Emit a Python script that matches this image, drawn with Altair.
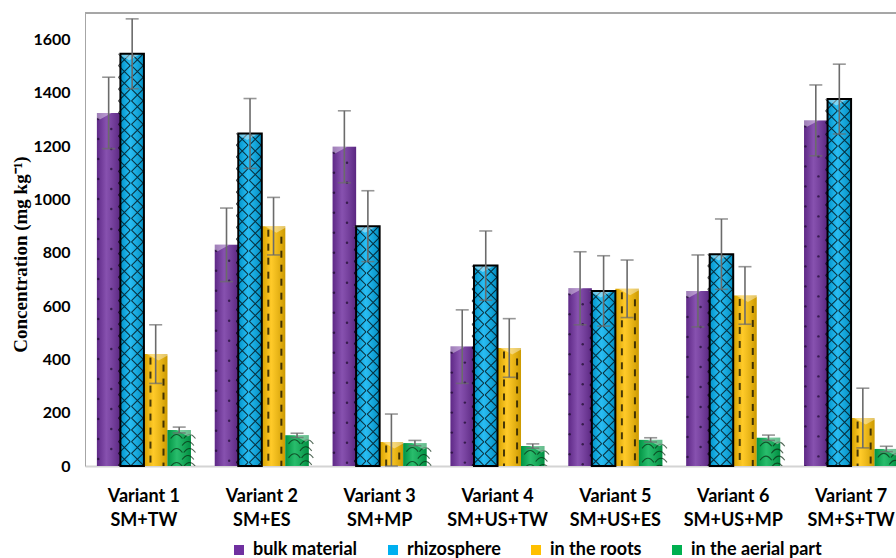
import altair as alt
import pandas as pd

# Categories
variants = ["Variant 1", "Variant 2", "Variant 3", "Variant 4", "Variant 5", "Variant 6", "Variant 7"]
treatments = ["SM+TW", "SM+ES", "SM+MP", "SM+US+TW", "SM+US+ES", "SM+US+MP", "SM+S+TW"]
series = ["bulk material", "rhizosphere", "in the roots", "in the aerial part"]
colors = ["#7030A0", "#00B0F0", "#FFC000", "#00B050"]

# Concentrations (mg/kg) and standard deviations per variant
bulk = [1325, 830, 1198, 448, 667, 657, 1297]
bulk_sd = [134, 138, 135, 138, 137, 135, 133]
rhizo = [1547, 1248, 900, 752, 657, 795, 1377]
rhizo_sd = [131, 131, 133, 130, 132, 132, 131]
roots = [420, 900, 90, 443, 665, 640, 180]
roots_sd = [110, 108, 105, 110, 108, 108, 112]
aerial = [135, 115, 86, 75, 98, 106, 64]
aerial_sd = [11, 8, 10, 8, 8, 10, 10]

y_ticks = [0, 200, 400, 600, 800, 1000, 1200, 1400, 1600]

Y_MAX = 1700
PLOT_W, PLOT_H = 811, 453
PX = Y_MAX / PLOT_H  # data units per screen pixel (used for texture spacing)

labels = [f"{v}|{t}" for v, t in zip(variants, treatments)]
values = dict(zip(series, [bulk, rhizo, roots, aerial]))
sds = dict(zip(series, [bulk_sd, rhizo_sd, roots_sd, aerial_sd]))
# each bar is split into a left and a right half for its texture;
# one empty slot on each side keeps the gap between groups
slots = ["gap|a"] + [f"{s}|{side}" for s in series for side in ("L", "R")] + ["gap|b"]

rows = []
for i, lab in enumerate(labels):
    for s in series:
        v, e = values[s][i], sds[s][i]
        rows.append({"group": lab, "series": s, "value": v, "lo": max(v - e, 0), "hi": v + e})
bars = pd.DataFrame(rows)


def texture(name, side, first_px, pitch_px):
    """Rows of texture glyphs filling one half of each bar of a series, from its top downward."""
    out = []
    for i, lab in enumerate(labels):
        v = values[name][i]
        k = 0
        while True:
            y = v - (first_px + k * pitch_px) * PX
            if y < -pitch_px * PX:
                break
            out.append({"group": lab, "series": name, "slot": f"{name}|{side}", "y": y})
            k += 1
    return pd.DataFrame(out)


x_enc = alt.X(
    "group:N",
    scale=alt.Scale(domain=labels, range=[0, 825], paddingInner=0, paddingOuter=0),
    axis=alt.Axis(
        title=None, labelExpr="split(datum.value, '|')", labelAngle=0,
        labelFont="Lato", labelFontWeight="bold", labelFontSize=18, labelColor="black",
        labelLineHeight=24, labelPadding=21, ticks=False,
        domain=True, domainColor="#d4d4d4", domainWidth=2,
    ),
)
off_enc = alt.XOffset("series:N", scale=alt.Scale(domain=series, paddingInner=0, paddingOuter=0.506))
slot_enc = alt.XOffset("slot:N", scale=alt.Scale(domain=slots, paddingInner=0, paddingOuter=0.015))
y_scale = alt.Scale(domain=[0, Y_MAX], nice=False, zero=True)
y_axis = alt.Axis(
    title="Concentration (mg kg⁻¹)", values=y_ticks, format="d", grid=False, ticks=False,
    domain=True, domainColor="#a6a6a6", domainWidth=1,
    labelFont="Lato", labelFontWeight="bold", labelFontSize=16, labelColor="black", labelPadding=15,
    titleFont="Liberation Serif", titleFontWeight="bold", titleFontSize=19, titleColor="black",
    titleX=-65, titleY=241, titleBaseline="middle", titleAlign="center", titleAngle=270,
)


def y_enc(field):
    return alt.Y(f"{field}:Q", scale=y_scale, axis=y_axis)


base = alt.Chart(bars).mark_bar().encode(
    x=x_enc, xOffset=off_enc, y=y_enc("value"),
    color=alt.Color(
        "series:N", scale=alt.Scale(domain=series, range=colors),
        legend=alt.Legend(
            title=None, orient="none", direction="horizontal", legendX=145, legendY=528,
            symbolType="square", symbolSize=100, symbolStrokeWidth=0, labelOffset=5,
            labelFont="Lato", labelFontWeight="bold", labelFontSize=18, labelColor="black",
            columnPadding=26, padding=0,
        ),
    ),
)

shade = alt.Gradient(
    gradient="linear", x1=0, x2=1, y1=0, y2=0,
    stops=[
        alt.GradientStop(offset=0, color="rgba(0,0,0,0.16)"),
        alt.GradientStop(offset=0.4, color="rgba(255,255,255,0.16)"),
        alt.GradientStop(offset=1, color="rgba(0,0,0,0.20)"),
    ],
)
gloss = alt.Chart(bars).mark_bar(fill=shade).encode(x=x_enc, xOffset=off_enc, y=y_enc("value"))


def half_layer(df, mark):
    return alt.Chart(df).mark_point(clip=True, **mark).encode(x=x_enc, xOffset=slot_enc, y=y_enc("y"))


dot_style = dict(shape="circle", size=6, filled=True, color="#1b0b2b", strokeWidth=0)
x_style = dict(shape="M-1,-1L1,1M1,-1L-1,1", size=138, color="black", strokeWidth=1.1)
dash_style = dict(shape="M0,-1L0,1", size=49, color="black", strokeWidth=2)
arc_style = dict(shape="M-1,0.6Q0,-0.8 1,0.6", size=138, color="#0a2a12", strokeWidth=1.1)

texture_layers = [
    half_layer(texture("bulk material", "L", 6, 20), dot_style),
    half_layer(texture("bulk material", "R", 16, 20), dot_style),
    half_layer(texture("rhizosphere", "L", 5.875, 11.75), x_style),
    half_layer(texture("rhizosphere", "R", 5.875, 11.75), x_style),
    half_layer(texture("in the roots", "L", 7, 14), dash_style),
    half_layer(texture("in the roots", "R", 14, 14), dash_style),
    half_layer(texture("in the aerial part", "L", 5, 14), arc_style),
    half_layer(texture("in the aerial part", "R", 5, 14), arc_style),
    alt.Chart(texture("in the aerial part", "L", 12, 14)).mark_point(clip=True, **arc_style).encode(
        x=x_enc, xOffset=off_enc, y=y_enc("y")),
]

# light bevel at the top of each bar
bevel = alt.Chart(bars).mark_point(
    shape="M-1,0L1,0L0,0.55Z", size=552, filled=True, fill="white", opacity=0.4, strokeWidth=0
).encode(x=x_enc, xOffset=off_enc, y=y_enc("value"))

outline = alt.Chart(bars).transform_filter(alt.datum.series == "rhizosphere").mark_bar(
    fillOpacity=0, stroke="black", strokeWidth=2
).encode(x=x_enc, xOffset=off_enc, y=y_enc("value"))

err_color = "#6b6b6b"
err_rule = alt.Chart(bars).mark_rule(color=err_color, strokeWidth=1.6).encode(
    x=x_enc, xOffset=off_enc, y=y_enc("lo"), y2="hi:Q")
err_top = alt.Chart(bars).mark_tick(color=err_color, size=13, thickness=1.6, orient="horizontal").encode(
    x=x_enc, xOffset=off_enc, y=y_enc("hi"))
err_bot = alt.Chart(bars).mark_tick(color=err_color, size=13, thickness=1.6, orient="horizontal").encode(
    x=x_enc, xOffset=off_enc, y=y_enc("lo"))

frame_top = alt.Chart(bars).mark_rule(color="#a6a6a6", strokeWidth=1).encode(y=alt.datum(Y_MAX))

chart = alt.layer(
    base, gloss, *texture_layers, bevel, outline, err_rule, err_top, err_bot, frame_top
).resolve_scale(
    xOffset="independent"
).properties(
    width=PLOT_W, height=PLOT_H,
    padding={"left": 85, "top": 13, "right": 0, "bottom": 92},
    autosize=alt.AutoSizeParams(type="none"),
    background="white",
).configure_view(strokeWidth=0)

chart.save("out.html", embed_options={"renderer": "svg", "actions": False})
